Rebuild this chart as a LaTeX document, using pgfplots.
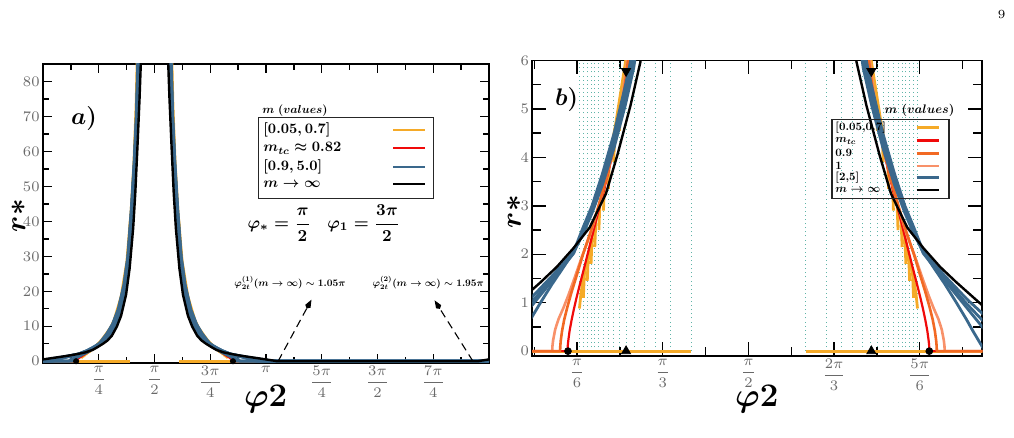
\RequirePackage{fix-cm}
\documentclass[border=0pt]{standalone}
\usepackage{amsmath}
\usepackage{graphicx}
\usepackage{pgfplots}
\usepackage{pgfplotstable}
\pgfplotsset{compat=1.18}
\usetikzlibrary{arrows.meta}

\definecolor{cOrange}{RGB}{245,170,40}
\definecolor{cRed}{RGB}{240,10,10}
\definecolor{cDark}{RGB}{242,105,35}
\definecolor{cSalmon}{RGB}{248,145,105}
\definecolor{cBlue}{RGB}{58,104,140}
\definecolor{cTeal}{RGB}{95,180,168}
\definecolor{cTick}{RGB}{105,105,105}

% bold math, set at 10pt and scaled
\newcommand{\sbm}[2]{\scalebox{#1}{$\boldsymbol{#2}$}}

% ---------------- m -> infinity ----------------
\pgfplotstableread{
p r
0.000 0.52
0.100 0.82
0.200 1.12
0.300 1.42
0.400 1.74
0.500 2.12
0.600 2.55
0.700 3.25
0.770 4.05
0.850 5.07
0.910 5.96
0.970 7.30
1.040 9.90
1.100 13.0
1.170 19.0
1.220 26.5
1.270 38.0
1.300 48.0
1.330 61.0
1.360 75.0
1.390 92.0
}\blkL
\pgfplotstableread{
p r
1.752 92.0
1.782 75.0
1.812 61.0
1.842 48.0
1.872 38.0
1.922 26.5
1.972 19.0
2.042 13.0
2.102 9.90
2.172 7.30
2.232 5.96
2.292 5.07
2.372 4.05
2.442 3.25
2.542 2.55
2.642 2.12
2.742 1.74
2.842 1.42
2.942 1.12
3.042 0.82
3.142 0.52
3.242 0.20
3.299 0.00
6.126 0.00
6.183 0.20
6.283 0.52
}\blkR
% ---------------- m in [2,5] ----------------
\pgfplotstableread{
p r
0.000 0.34
0.142 0.78
0.238 1.08
0.370 1.55
0.503 2.05
0.560 2.42
0.615 2.85
0.680 3.45
0.750 4.20
0.820 5.10
0.870 5.85
0.950 7.80
1.015 10.0
1.080 13.8
1.150 20.0
1.200 27.0
1.250 40.0
1.290 52.0
1.320 64.0
1.350 85.0
1.365 98.0
}\bAL
\pgfplotstableread{
p r
1.777 98.0
1.792 85.0
1.822 64.0
1.852 52.0
1.892 40.0
1.942 27.0
1.992 20.0
2.062 13.8
2.127 10.0
2.192 7.80
2.272 5.85
2.322 5.10
2.392 4.20
2.462 3.45
2.527 2.85
2.582 2.42
2.639 2.05
2.772 1.55
2.904 1.08
3.000 0.78
3.142 0.34
3.252 0.00
6.173 0.00
6.283 0.34
}\bAR
\pgfplotstableread{
p r
0.000 0.14
0.142 0.64
0.238 0.98
0.370 1.50
0.503 2.04
0.560 2.46
0.615 2.90
0.680 3.52
0.750 4.30
0.820 5.25
0.870 6.00
0.950 8.00
1.015 10.3
1.080 14.2
1.150 20.6
1.200 27.8
1.250 41.0
1.290 53.5
1.320 66.0
1.350 87.0
1.365 100
}\bBL
\pgfplotstableread{
p r
1.777 100
1.792 87.0
1.822 66.0
1.852 53.5
1.892 41.0
1.942 27.8
1.992 20.6
2.062 14.2
2.127 10.3
2.192 8.00
2.272 6.00
2.322 5.25
2.392 4.30
2.462 3.52
2.527 2.90
2.582 2.46
2.639 2.04
2.772 1.50
2.904 0.98
3.000 0.64
3.142 0.14
3.183 0.00
6.242 0.00
6.283 0.14
}\bBR
\pgfplotstableread{
p r
0.000 0.00
0.023 0.00
0.142 0.50
0.238 0.90
0.370 1.45
0.503 2.02
0.560 2.50
0.615 2.95
0.680 3.60
0.750 4.40
0.820 5.35
0.870 6.15
0.950 8.20
1.015 10.6
1.080 14.6
1.150 21.2
1.200 28.6
1.250 42.0
1.290 55.0
1.320 68.0
1.350 89.0
1.365 102
}\bCL
\pgfplotstableread{
p r
1.777 102
1.792 89.0
1.822 68.0
1.852 55.0
1.892 42.0
1.942 28.6
1.992 21.2
2.062 14.6
2.127 10.6
2.192 8.20
2.272 6.15
2.322 5.35
2.392 4.40
2.462 3.60
2.527 2.95
2.582 2.50
2.639 2.02
2.772 1.45
2.904 0.90
3.000 0.50
3.119 0.00
6.283 0.00
}\bCR
\pgfplotstableread{
p r
0.000 0.00
0.126 0.00
0.142 0.09
0.200 0.42
0.238 0.65
0.300 1.00
0.370 1.38
0.440 1.73
0.503 2.06
0.560 2.55
0.615 3.00
0.680 3.68
0.750 4.50
0.820 5.50
0.870 6.30
0.950 8.40
1.015 10.9
1.080 15.0
1.150 21.8
1.200 29.4
1.250 43.0
1.290 56.5
1.320 70.0
1.350 91.0
1.365 104
}\bDL
\pgfplotstableread{
p r
1.777 104
1.792 91.0
1.822 70.0
1.852 56.5
1.892 43.0
1.942 29.4
1.992 21.8
2.062 15.0
2.127 10.9
2.192 8.40
2.272 6.30
2.322 5.50
2.392 4.50
2.462 3.68
2.527 3.00
2.582 2.55
2.639 2.06
2.702 1.73
2.772 1.38
2.842 1.00
2.904 0.65
2.942 0.42
3.000 0.09
3.016 0.00
6.283 0.00
}\bDR
% ---------------- m_tc ----------------
\pgfplotstableread{
p r
0.000 0.00
0.466 0.00
0.467 0.12
0.470 0.22
0.478 0.42
0.490 0.64
0.503 0.85
0.520 1.10
0.544 1.42
0.570 1.76
0.594 2.08
0.625 2.50
0.655 2.90
0.690 3.35
0.730 3.92
0.770 4.55
0.810 5.25
0.855 6.05
0.950 8.10
1.015 10.4
1.080 14.4
1.150 21.0
1.200 28.0
1.250 41.0
1.290 54.0
1.320 66.0
1.350 87.0
1.365 100
}\redL
\pgfplotstableread{
p r
1.777 100
1.792 87.0
1.822 66.0
1.852 54.0
1.892 41.0
1.942 28.0
1.992 21.0
2.062 14.4
2.127 10.4
2.192 8.10
2.287 6.05
2.332 5.25
2.372 4.55
2.412 3.92
2.452 3.35
2.487 2.90
2.517 2.50
2.548 2.08
2.572 1.76
2.598 1.42
2.622 1.10
2.639 0.85
2.652 0.64
2.664 0.42
2.672 0.22
2.675 0.12
2.676 0.00
6.283 0.00
}\redR
% ---------------- m = 0.9 ----------------
\pgfplotstableread{
p r
0.000 0.00
0.420 0.00
0.421 0.10
0.424 0.22
0.432 0.42
0.445 0.65
0.465 0.92
0.490 1.22
0.520 1.55
0.560 2.00
0.610 2.50
0.655 3.00
0.700 3.55
0.750 4.25
0.795 4.98
0.835 6.00
0.905 7.85
0.985 10.6
1.065 14.8
1.145 21.8
1.198 29.8
1.248 43.5
1.288 57.0
1.318 70.0
1.348 92.0
1.362 105
}\drkL
\pgfplotstableread{
p r
1.780 105
1.794 92.0
1.824 70.0
1.854 57.0
1.894 43.5
1.944 29.8
1.997 21.8
2.077 14.8
2.157 10.6
2.237 7.85
2.307 6.00
2.347 4.98
2.392 4.25
2.442 3.55
2.487 3.00
2.532 2.50
2.582 2.00
2.622 1.55
2.652 1.22
2.677 0.92
2.697 0.65
2.710 0.42
2.718 0.22
2.721 0.10
2.722 0.00
6.283 0.00
}\drkR
% ---------------- m = 1 ----------------
\pgfplotstableread{
p r
0.000 0.00
0.372 0.00
0.373 0.10
0.377 0.22
0.390 0.45
0.410 0.66
0.441 0.90
0.470 1.15
0.503 1.46
0.550 1.92
0.605 2.42
0.650 2.92
0.700 3.55
0.750 4.25
0.790 4.95
0.830 6.00
0.900 7.85
0.980 10.6
1.060 14.8
1.140 21.8
1.195 29.8
1.245 43.5
1.285 57.0
1.315 70.0
1.345 92.0
1.360 105
}\salL
\pgfplotstableread{
p r
1.782 105
1.797 92.0
1.827 70.0
1.857 57.0
1.897 43.5
1.947 29.8
2.002 21.8
2.082 14.8
2.162 10.6
2.242 7.85
2.312 6.00
2.352 4.95
2.392 4.25
2.442 3.55
2.492 2.92
2.537 2.42
2.592 1.92
2.639 1.46
2.672 1.15
2.701 0.90
2.732 0.66
2.752 0.45
2.765 0.22
2.769 0.10
2.770 0.00
6.283 0.00
}\salR
% ---------------- m in [0.05,0.7]: common branch ----------------
\pgfplotstableread{
p r
0.538 0.88
0.546 1.15
0.556 1.38
0.570 1.63
0.590 1.95
0.615 2.35
0.645 2.80
0.680 3.30
0.720 3.95
0.760 4.70
0.800 5.55
0.830 6.20
0.880 7.60
0.950 9.60
1.000 11.7
1.100 18.5
1.180 28.5
1.240 43.0
1.280 57.0
1.310 73.0
1.330 90.0
1.345 105
}\orgL
\pgfplotstableread{
p r
2.604 0.88
2.596 1.15
2.586 1.38
2.572 1.63
2.552 1.95
2.527 2.35
2.497 2.80
2.462 3.30
2.422 3.95
2.382 4.70
2.342 5.55
2.312 6.20
2.262 7.60
2.192 9.60
2.142 11.7
2.042 18.5
1.962 28.5
1.902 43.0
1.862 57.0
1.832 73.0
1.812 90.0
1.797 105
}\orgR

\pgfplotsset{
  panel/.style={
    scale only axis,
    axis line style={line width=0.9pt},
    every tick/.style={black, line width=0.7pt},
    tick align=inside,
    tick label style={font=\fontsize{7.3}{9}\selectfont, text=cTick, inner sep=1.5pt},
  },
  cv/.style={no marks, line join=round},
}

% lower ends of the [0.05,0.7] branches, with a jump between them
\newcommand{\teethL}{(0.562,1.10) (0.568,1.594) (0.565,nan)
 (0.586,1.45) (0.592,1.982) (0.590,nan)
 (0.609,1.80) (0.615,2.35) (0.612,nan)
 (0.632,2.15) (0.638,2.695) (0.635,nan)
 (0.657,2.50) (0.663,3.057) (0.660,nan)
 (0.685,2.90) (0.691,3.479) (0.688,nan)
 (0.715,3.35) (0.721,3.969) (0.718,nan)
 (0.748,3.90) (0.754,4.588) (0.751,nan)
 (0.783,4.55) (0.789,5.316) (0.786,nan)
 (0.825,5.40) (0.831,6.23) (0.828,nan)
 (0.875,6.50) (0.881,7.63) (0.878,nan)
 (0.935,8.20) (0.941,9.34) (0.938,nan)
 (1.005,10.9) (1.011,12.45) (1.008,nan)
 (1.094,16.8) (1.100,18.5) (1.097,nan)
 (1.222,36.0) (1.228,40.1)}
\newcommand{\teethR}{(2.580,1.10) (2.574,1.594) (2.577,nan)
 (2.556,1.45) (2.550,1.982) (2.553,nan)
 (2.533,1.80) (2.527,2.35) (2.530,nan)
 (2.510,2.15) (2.504,2.695) (2.507,nan)
 (2.485,2.50) (2.479,3.057) (2.482,nan)
 (2.457,2.90) (2.451,3.479) (2.454,nan)
 (2.427,3.35) (2.421,3.969) (2.424,nan)
 (2.394,3.90) (2.388,4.588) (2.391,nan)
 (2.359,4.55) (2.353,5.316) (2.356,nan)
 (2.317,5.40) (2.311,6.23) (2.314,nan)
 (2.267,6.50) (2.261,7.63) (2.264,nan)
 (2.207,8.20) (2.201,9.34) (2.204,nan)
 (2.137,10.9) (2.131,12.45) (2.134,nan)
 (2.048,16.8) (2.042,18.5) (2.045,nan)
 (1.920,36.0) (1.914,40.1)}

\begin{document}
\begin{tikzpicture}
\useasboundingbox (0,0) rectangle (507pt,219pt);

% ======================= panel a =======================
\begin{axis}[panel,
  at={(21.5pt,37.5pt)}, anchor=south west,
  width=223pt, height=149.5pt,
  xmin=0, xmax=6.2832, ymin=-0.5, ymax=85,
  xtick={0.7854,1.5708,2.3562,3.1416,3.9270,4.7124,5.4978},
  xticklabels={$\dfrac{\pi}{4}$,$\dfrac{\pi}{2}$,$\dfrac{3\pi}{4}$,$\pi$,$\dfrac{5\pi}{4}$,$\dfrac{3\pi}{2}$,$\dfrac{7\pi}{4}$},
  minor xtick={0.3927,1.1781,1.9635,2.7489,3.5343,4.3197,5.1051,5.8905},
  ytick={0,10,...,80}, minor ytick={5,15,...,75},
  major tick length=4.5pt, minor tick length=3pt,
]
\addplot[cv, cOrange, line width=1.3pt] coordinates {(0,0) (1.222,0)};
\addplot[cv, cOrange, line width=1.3pt] coordinates {(1.920,0) (6.283,0)};
\addplot[cv, cOrange, line width=1.3pt] table[x=p,y=r] {\orgL};
\addplot[cv, cOrange, line width=1.3pt] table[x=p,y=r] {\orgR};
\addplot[cv, cOrange, line width=1.3pt, unbounded coords=jump] coordinates {\teethL};
\addplot[cv, cOrange, line width=1.3pt, unbounded coords=jump] coordinates {\teethR};
\addplot[cv, cRed, line width=1.1pt] table[x=p,y=r] {\redL};
\addplot[cv, cRed, line width=1.1pt] table[x=p,y=r] {\redR};
\addplot[cv, cBlue, line width=1.5pt] table[x=p,y=r] {\salL};
\addplot[cv, cBlue, line width=1.5pt] table[x=p,y=r] {\salR};
\addplot[cv, cBlue, line width=1.5pt] table[x=p,y=r] {\drkL};
\addplot[cv, cBlue, line width=1.5pt] table[x=p,y=r] {\drkR};
\addplot[cv, cBlue, line width=1.5pt] table[x=p,y=r] {\bAL};
\addplot[cv, cBlue, line width=1.5pt] table[x=p,y=r] {\bAR};
\addplot[cv, cBlue, line width=1.5pt] table[x=p,y=r] {\bBL};
\addplot[cv, cBlue, line width=1.5pt] table[x=p,y=r] {\bBR};
\addplot[cv, cBlue, line width=1.5pt] table[x=p,y=r] {\bCL};
\addplot[cv, cBlue, line width=1.5pt] table[x=p,y=r] {\bCR};
\addplot[cv, cBlue, line width=1.5pt] table[x=p,y=r] {\bDL};
\addplot[cv, cBlue, line width=1.5pt] table[x=p,y=r] {\bDR};
\addplot[cv, black, line width=1.2pt] table[x=p,y=r] {\blkL};
\addplot[cv, black, line width=1.2pt] table[x=p,y=r] {\blkR};
\addplot[only marks, mark=*, mark size=1.3pt, black] coordinates {(0.466,0) (2.676,0)};
\draw[line width=0.55pt, dash pattern=on 4pt off 2.5pt, -{Kite[length=5pt,width=3pt]}]
  (axis cs:3.312,0) -- (axis cs:3.782,17.6);
\draw[line width=0.55pt, dash pattern=on 4pt off 2.5pt, -{Kite[length=5pt,width=3pt]}]
  (axis cs:6.057,0) -- (axis cs:5.517,17.4);
\end{axis}

% ======================= panel b =======================
\begin{axis}[panel,
  at={(266.15pt,41pt)}, anchor=south west,
  width=225pt, height=147.75pt,
  xmin=0.25, xmax=3.0, ymin=-0.1, ymax=6,
  xtick={0.5236,1.0472,1.5708,2.0944,2.6180},
  xticklabels={$\dfrac{\pi}{6}$,$\dfrac{\pi}{3}$,$\dfrac{\pi}{2}$,$\dfrac{2\pi}{3}$,$\dfrac{5\pi}{6}$},
  minor xtick={0.2618,0.7854,1.3090,1.8326,2.3562,2.8798},
  ytick={0,1,...,6}, minor ytick={0.5,1.5,...,5.5},
  major tick length=7pt, minor tick length=4.5pt,
]
\addplot[ycomb, no marks, cTeal, line width=0.45pt, dash pattern=on 0.45pt off 1.6pt] coordinates {
 (0.538,6.2) (0.562,6.2) (0.586,6.2) (0.609,6.2) (0.632,6.2) (0.657,6.2) (0.685,6.2) (0.715,6.2)
 (0.748,6.2) (0.783,6.2) (0.825,6.2) (0.875,6.2) (0.935,6.2) (1.005,6.2) (1.094,6.2) (1.222,6.2)
 (1.920,6.2) (2.048,6.2) (2.137,6.2) (2.207,6.2) (2.267,6.2) (2.317,6.2) (2.359,6.2) (2.394,6.2)
 (2.427,6.2) (2.457,6.2) (2.485,6.2) (2.510,6.2) (2.533,6.2) (2.556,6.2) (2.580,6.2) (2.604,6.2)};
\addplot[cv, cOrange, line width=1.4pt] coordinates {(0,0) (1.222,0)};
\addplot[cv, cOrange, line width=1.4pt] coordinates {(1.920,0) (6.283,0)};
\addplot[cv, cOrange, line width=1.4pt] table[x=p,y=r] {\orgL};
\addplot[cv, cOrange, line width=1.4pt] table[x=p,y=r] {\orgR};
\addplot[cv, cOrange, line width=1.4pt, unbounded coords=jump] coordinates {\teethL};
\addplot[cv, cOrange, line width=1.4pt, unbounded coords=jump] coordinates {\teethR};
\addplot[cv, cRed, line width=1.1pt] table[x=p,y=r] {\redL};
\addplot[cv, cRed, line width=1.1pt] table[x=p,y=r] {\redR};
\addplot[cv, cSalmon, line width=1.3pt] table[x=p,y=r] {\salL};
\addplot[cv, cSalmon, line width=1.3pt] table[x=p,y=r] {\salR};
\addplot[cv, cDark, line width=1.3pt] table[x=p,y=r] {\drkL};
\addplot[cv, cDark, line width=1.3pt] table[x=p,y=r] {\drkR};
\addplot[cv, cBlue, line width=1.4pt] table[x=p,y=r] {\bAL};
\addplot[cv, cBlue, line width=1.4pt] table[x=p,y=r] {\bAR};
\addplot[cv, cBlue, line width=1.4pt] table[x=p,y=r] {\bBL};
\addplot[cv, cBlue, line width=1.4pt] table[x=p,y=r] {\bBR};
\addplot[cv, cBlue, line width=1.4pt] table[x=p,y=r] {\bCL};
\addplot[cv, cBlue, line width=1.4pt] table[x=p,y=r] {\bCR};
\addplot[cv, cBlue, line width=1.4pt] table[x=p,y=r] {\bDL};
\addplot[cv, cBlue, line width=1.4pt] table[x=p,y=r] {\bDR};
\addplot[cv, black, line width=1.2pt] table[x=p,y=r] {\blkL};
\addplot[cv, black, line width=1.2pt] table[x=p,y=r] {\blkR};
\addplot[only marks, mark=*, mark size=1.7pt, black] coordinates {(0.468,0) (2.676,0)};
\addplot[only marks, mark=triangle*, mark size=2.6pt, black] coordinates {(0.823,0) (2.322,0)};
\addplot[only marks, mark=triangle*, mark size=2.6pt, black, every mark/.append style={rotate=180}] coordinates {(0.823,5.78) (2.322,5.78)};
\end{axis}

% ======================= texts =======================
\begin{scope}[x=0.5pt, y=-0.5pt, yshift=219pt, every node/.append style={inner sep=0pt}]
\node[font=\fontsize{6.2}{7}\selectfont] at (1001.7,15) {9};
% axis labels
\node[rotate=90, font=\fontsize{14.5}{17}\selectfont] at (18.5,215.7) {$\boldsymbol{r*}$};
\node[font=\fontsize{16.5}{18}\selectfont] at (265.7,399) {$\boldsymbol{\varphi 2}$};
\node[rotate=90, font=\fontsize{14.5}{17}\selectfont] at (514,211.7) {$\boldsymbol{r*}$};
\node[font=\fontsize{16.5}{18}\selectfont] at (756.7,399) {$\boldsymbol{\varphi 2}$};
% panel tags
\node[font=\fontsize{12}{14}\selectfont] at (84,119) {$\boldsymbol{a)}$};
\node[font=\fontsize{12}{14}\selectfont] at (566.7,100) {$\boldsymbol{b)}$};
% key of panel a
\draw[line width=0.6pt, black!85] (258.3,117.3) rectangle (433.3,198.3);
\node[anchor=west] at (262,110.5) {\sbm{0.58}{m\ (values)}};
\node[anchor=west] at (263,130) {\sbm{0.72}{[0.05, 0.7]}};
\node[anchor=west] at (263,148.3) {\sbm{0.72}{m_{tc}\approx 0.82}};
\node[anchor=west] at (263,166.7) {\sbm{0.72}{[0.9, 5.0]}};
\node[anchor=west] at (263,184.3) {\sbm{0.72}{m \to \infty}};
\draw[cOrange, line width=1pt] (393.3,130) -- (425,130);
\draw[cRed, line width=1pt] (393.3,148.3) -- (425,148.3);
\draw[cBlue, line width=1pt] (393.3,166.7) -- (425,166.7);
\draw[black, line width=1pt] (393.3,184.3) -- (425,184.3);
% parameters of panel a
\node at (323.8,223) {\sbm{0.84}{\varphi_* = \dfrac{\pi}{2}\quad \varphi_1 = \dfrac{3\pi}{2}}};
\node at (290,282.5) {\sbm{0.5}{\varphi_{2t}^{(1)}(m\to\infty)\sim 1.05\pi}};
\node at (428.3,282.5) {\sbm{0.5}{\varphi_{2t}^{(2)}(m\to\infty)\sim 1.95\pi}};
% key of panel b
\draw[line width=0.6pt, black!85] (832,119.3) rectangle (949,198.3);
\node[anchor=west] at (884.3,110) {\sbm{0.62}{m\ (values)}};
\node[anchor=west] at (835,127.7) {\sbm{0.565}{[0.05{,}0.7]}};
\node[anchor=west] at (835,140.7) {\sbm{0.565}{m_{tc}}};
\node[anchor=west] at (835,153.3) {\sbm{0.565}{0.9}};
\node[anchor=west] at (835,166) {\sbm{0.565}{1}};
\node[anchor=west] at (835,177.7) {\sbm{0.565}{[2{,}5]}};
\node[anchor=west] at (835,190) {\sbm{0.565}{m \to \infty}};
\draw[cOrange, line width=1.4pt] (916.7,127.7) -- (939.3,127.7);
\draw[cRed, line width=1.4pt] (916.7,140.7) -- (939.3,140.7);
\draw[cDark, line width=1.4pt] (916.7,153.3) -- (939.3,153.3);
\draw[cSalmon, line width=1.4pt] (916.7,166) -- (939.3,166);
\draw[cBlue, line width=1.4pt] (916.7,177.7) -- (939.3,177.7);
\draw[black, line width=1.4pt] (916.7,190) -- (939.3,190);
\end{scope}
\end{tikzpicture}
\end{document}
